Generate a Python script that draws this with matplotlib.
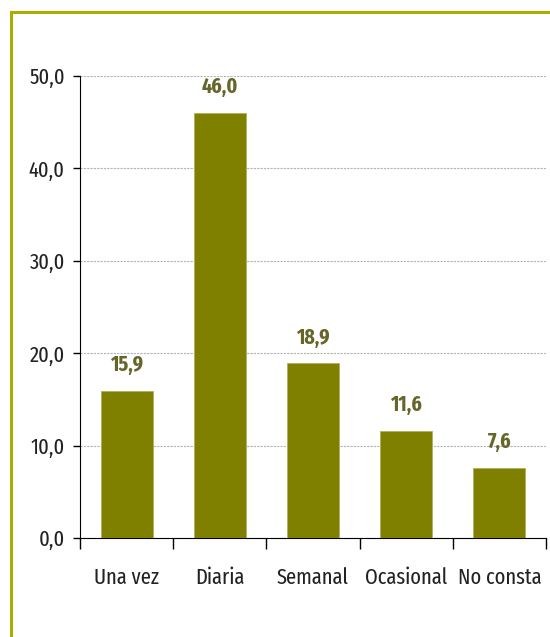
import matplotlib.pyplot as plt
from matplotlib.lines import Line2D

categories = ['Una vez', 'Diaria', 'Semanal', 'Ocasional', 'No consta']
values = [15.9, 46.0, 18.9, 11.6, 7.6]
yticks = [0, 10, 20, 30, 40, 50]

plt.rcParams['font.family'] = ['Fira Sans Extra Condensed', 'DejaVu Sans']

fig = plt.figure(figsize=(5.5, 6.37), dpi=100)
ax = fig.add_axes([0.1455, 0.1554, 0.8472, 0.7253])

x = range(len(categories))
ax.bar(x, values, width=0.56, color='#808000', edgecolor='#b0b060', linewidth=0.6, zorder=3)

# value labels above the bars
for i, v in enumerate(values):
    ax.text(i, v + 2.8, f'{v:.1f}'.replace('.', ','), ha='center', va='center',
            fontsize=15.5, fontweight='bold', color='#66662a')

ax.set_xlim(-0.5, len(categories) - 0.5)
ax.set_ylim(0, 50)
ax.set_yticks(yticks)
ax.set_yticklabels([f'{t:.1f}'.replace('.', ',') for t in yticks], fontsize=16, color='#222222')
# major ticks between categories, names on minor ticks
ax.set_xticks([i + 0.5 for i in range(-1, len(categories))])
ax.set_xticklabels([])
ax.set_xticks(list(x), minor=True)
ax.set_xticklabels(categories, minor=True, fontsize=16, color='#222222')
ax.tick_params(axis='x', which='major', length=8, width=1, direction='out')
ax.tick_params(axis='x', which='minor', length=0, pad=21)
ax.tick_params(axis='y', length=5, width=1, pad=6)

ax.grid(axis='y', linestyle=(0, (2, 1)), color='#b4b4b4', linewidth=0.8, zorder=0)
for s in ['top', 'right']:
    ax.spines[s].set_visible(False)
ax.spines['left'].set_color('#000000')
ax.spines['bottom'].set_color('#000000')

# frame border on left and top
fig.add_artist(Line2D([0.02, 0.02], [0, 0.981], color='#abab00', linewidth=2.2, transform=fig.transFigure))
fig.add_artist(Line2D([0.02, 1.0], [0.981, 0.981], color='#abab00', linewidth=2.2, transform=fig.transFigure))

fig.savefig('out.png', dpi=100)
